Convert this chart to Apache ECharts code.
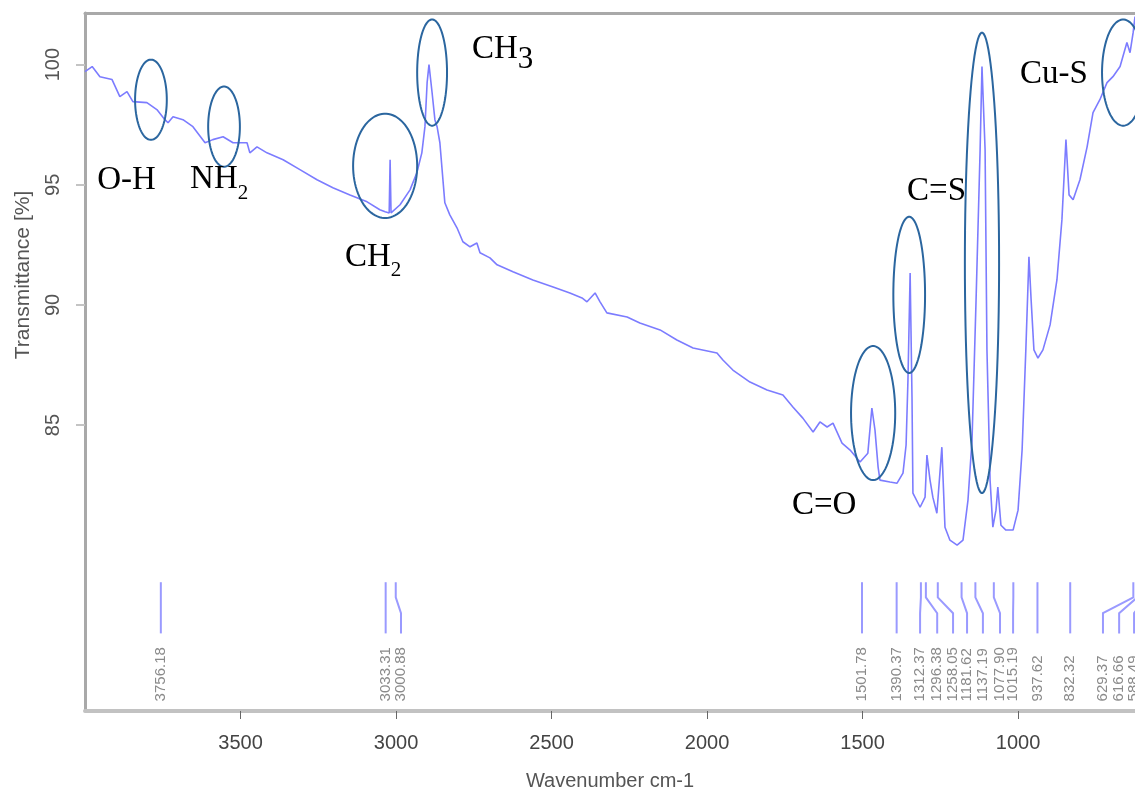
<!DOCTYPE html>
<html>
<head>
<meta charset="utf-8">
<title>FTIR spectrum</title>
<script src="https://cdn.jsdelivr.net/npm/echarts@6/dist/echarts.min.js"></script>
<style>
html, body { margin: 0; padding: 0; background: #fff; }
#chart { width: 1135px; height: 789px; }
</style>
</head>
<body>
<div id="chart"></div>
<script>
// spectrum: wavenumber (cm-1) / transmittance (%)
var wavenumber = [4000, 3977, 3952, 3913, 3888, 3865, 3846, 3801, 3769, 3743, 3733, 3717, 3685, 3653, 3614, 3589,
  3556, 3524, 3479, 3470, 3447, 3415, 3363, 3309, 3254, 3203, 3148, 3093, 3052, 3035, 3022, 3019, 3016, 3010,
  2987, 2955, 2933, 2917, 2907, 2900, 2894, 2884, 2875, 2868, 2859, 2843, 2827, 2804, 2785, 2762, 2740, 2730,
  2698, 2675, 2624, 2560, 2495, 2441, 2402, 2386, 2360, 2344, 2322, 2257, 2216, 2151, 2097, 2045, 1968, 1949,
  1917, 1862, 1807, 1756, 1724, 1692, 1659, 1637, 1614, 1595, 1566, 1540, 1508, 1483, 1470, 1460, 1450, 1444,
  1412, 1389, 1370, 1360, 1354, 1347, 1341, 1338, 1315, 1299, 1293, 1283, 1274, 1261, 1245, 1235, 1219, 1196,
  1177, 1161, 1148, 1135, 1122, 1116, 1106, 1100, 1090, 1081, 1071, 1065, 1055, 1039, 1016, 1000, 987, 975,
  965, 958, 949, 936, 920, 897, 875, 859, 846, 836, 823, 801, 778, 759, 737, 714, 695, 672, 650, 640, 630, 624];
var transmittance = [99.71, 99.92, 99.5, 99.38, 98.67, 98.88, 98.46, 98.42, 98.13, 97.71, 97.58, 97.83, 97.71, 97.42, 96.75, 96.88,
  97.0, 96.75, 96.75, 96.33, 96.58, 96.33, 96.04, 95.63, 95.21, 94.88, 94.58, 94.29, 93.96, 93.88, 93.83, 96.04, 93.83, 93.9,
  94.17, 94.79, 95.5, 96.33, 97.42, 99.25, 100.0, 98.83, 97.71, 97.42, 96.75, 94.25, 93.75, 93.21, 92.63, 92.42, 92.58, 92.17,
  91.96, 91.67, 91.38, 91.04, 90.75, 90.5, 90.29, 90.13, 90.5, 90.13, 89.67, 89.5, 89.25, 88.96, 88.54, 88.21, 88.0, 87.71,
  87.29, 86.79, 86.46, 86.25, 85.75, 85.29, 84.71, 85.13, 84.92, 85.08, 84.25, 83.96, 83.46, 83.83, 85.71, 84.79, 83.25, 82.71,
  82.63, 82.58, 83.0, 84.17, 86.88, 91.33, 86.17, 82.17, 81.58, 82.0, 83.75, 82.71, 82.0, 81.33, 84.08, 80.75, 80.21, 80.0,
  80.21, 81.88, 84.38, 90.21, 96.46, 99.92, 96.46, 88.13, 82.71, 80.75, 81.46, 82.42, 80.83, 80.63, 80.63, 81.46, 83.96, 88.13,
  92.0, 90.21, 88.13, 87.79, 88.13, 89.17, 91.04, 93.54, 96.88, 94.58, 94.38, 95.21, 96.58, 98.0, 98.54, 99.25, 99.5, 99.92, 100.92, 100.5, 101.33, 102.0];

// tick labels
var xTicks = [1000, 1500, 2000, 2500, 3000, 3500];
var yTicks = [85, 90, 95, 100];

// peak picks: real wavenumber, printed text, and where the label ends up after its leader bends
var peakWn = [3756.18, 3033.31, 3000.88, 1501.78, 1390.37, 1312.37, 1296.38, 1258.05, 1181.62, 1137.19,
  1077.90, 1015.19, 937.62, 832.32, 629.37, 616.66, 588.49];
var peakText = ['3756.18', '3033.31', '3000.88', '1501.78', '1390.37', '1312.37', '1296.38', '1258.05', '1181.62', '1137.19',
  '1077.90', '1015.19', '937.62', '832.32', '629.37', '616.66', '588.49'];
var peakLabelWn = [3756.18, 3033.31, 2984, 1501.78, 1390.37, 1315, 1260, 1209, 1164, 1113,
  1058, 1016, 937.62, 832.32, 727, 675, 627];

// band names written on the plot
var bandNames = ['O-H', 'NH', 'CH', 'CH', 'C=S', 'Cu-S', 'C=O'];
var bandSub = ['', '2', '2', '3', '', '', ''];
var bandWn = [3961, 3662, 3164, 2756, 1357, 994, 1727];
var bandT = [95.19, 95.21, 92.0, 100.62, 94.71, 99.58, 81.67];

// rings drawn round the bands (centre, half width in cm-1, half height in %)
var ringWn = [3788, 3553, 3035, 2884, 1466, 1350, 1116, 662];
var ringT = [98.54, 97.42, 95.79, 99.67, 85.5, 90.42, 91.75, 99.67];
var ringRx = [51, 51, 103, 48, 71, 51, 55, 68];
var ringRy = [1.67, 1.67, 2.17, 2.21, 2.79, 3.25, 9.58, 2.21];

var X_MIN = 624, X_MAX = 4000, Y_MIN = 73.1, Y_MAX = 102.15;

var chart = echarts.init(document.getElementById('chart'));

var spectrum = wavenumber.map(function (w, i) { return [w, transmittance[i]]; });

function renderRing(params, api) {
  var i = params.dataIndex;
  var pts = [];
  for (var k = 0; k <= 90; k++) {
    var a = k / 90 * Math.PI * 2;
    pts.push(api.coord([ringWn[i] + ringRx[i] * Math.cos(a), ringT[i] + ringRy[i] * Math.sin(a)]));
  }
  return {
    type: 'polyline',
    shape: { points: pts },
    style: { stroke: '#2b669f', lineWidth: 2, fill: null }
  };
}

function renderPeak(params, api) {
  var i = params.dataIndex;
  var p1 = api.coord([peakWn[i], 78.46]);
  var p2 = api.coord([peakWn[i], 77.83]);
  var p3 = api.coord([peakLabelWn[i], 77.17]);
  var p4 = api.coord([peakLabelWn[i], 76.33]);
  var t = api.coord([peakLabelWn[i], 73.5]);
  return {
    type: 'group',
    children: [{
      type: 'polyline',
      shape: { points: [p1, p2, p3, p4] },
      style: { stroke: '#9a9aff', lineWidth: 2, fill: null }
    }, {
      type: 'text',
      x: t[0], y: t[1],
      rotation: Math.PI / 2,
      style: {
        text: peakText[i], fill: '#8a8a8a', fontSize: 15,
        fontFamily: 'Liberation Sans', align: 'left', verticalAlign: 'middle'
      }
    }]
  };
}

var measureCtx = document.createElement('canvas').getContext('2d');
measureCtx.font = '33px "Liberation Serif"';

function renderBand(params, api) {
  var i = params.dataIndex;
  var p = api.coord([bandWn[i], bandT[i]]);
  var kids = [{
    type: 'text', x: p[0], y: p[1],
    style: {
      text: bandNames[i], fill: '#000', fontSize: 33, fontFamily: 'Liberation Serif',
      align: 'left', verticalAlign: 'middle'
    }
  }];
  if (bandSub[i]) {
    var w = measureCtx.measureText(bandNames[i]).width;
    var big = bandSub[i] === '3';
    kids.push({
      type: 'text', x: p[0] + w, y: p[1] + (big ? 10 : 14),
      style: {
        text: bandSub[i], fill: '#000', fontSize: big ? 31 : 21, fontFamily: 'Liberation Serif',
        align: 'left', verticalAlign: 'middle'
      }
    });
  }
  return { type: 'group', children: kids };
}

var option = {
  animation: false,
  backgroundColor: '#ffffff',
  grid: { left: 85, right: 0, top: 13, bottom: 78, containLabel: false, outerBoundsMode: 'none' },
  xAxis: [{
    type: 'value',
    min: X_MIN, max: X_MAX,
    inverse: true,
    name: 'Wavenumber cm-1',
    nameLocation: 'middle',
    nameGap: 60,
    nameTextStyle: { color: '#555', fontSize: 20, fontFamily: 'Liberation Sans' },
    axisLine: { show: true, onZero: false, lineStyle: { color: '#c2c2c2', width: 4 } },
    axisTick: { show: true, length: 8, customValues: xTicks, lineStyle: { color: '#666', width: 1 } },
    axisLabel: {
      customValues: xTicks, margin: 22, color: '#444', fontSize: 20, fontFamily: 'Liberation Sans',
      formatter: function (v) { return String(v); }
    },
    splitLine: { show: false }
  }, {
    type: 'value',
    position: 'top',
    min: X_MIN, max: X_MAX,
    inverse: true,
    axisLine: { show: true, onZero: false, lineStyle: { color: '#a9a9a9', width: 3 } },
    axisTick: { show: false },
    axisLabel: { show: false },
    splitLine: { show: false }
  }],
  yAxis: {
    type: 'value',
    min: Y_MIN, max: Y_MAX,
    axisLine: { show: true, onZero: false, lineStyle: { color: '#a9a9a9', width: 3 } },
    axisTick: { show: true, length: 9, customValues: yTicks, lineStyle: { color: '#c4c4c4', width: 2 } },
    axisLabel: {
      customValues: yTicks, rotate: 90, margin: 22, color: '#555', fontSize: 20, fontFamily: 'Liberation Sans',
      formatter: function (v) { return String(v); }
    },
    splitLine: { show: false }
  },
  graphic: [{
    type: 'text',
    x: 23, y: 275,
    rotation: Math.PI / 2,
    style: {
      text: 'Transmittance [%]', fill: '#555', fontSize: 21, fontFamily: 'Liberation Sans',
      align: 'center', verticalAlign: 'middle'
    }
  }],
  series: [{
    type: 'line',
    data: spectrum,
    showSymbol: false,
    symbol: 'none',
    lineStyle: { color: '#7c7cff', width: 1.6 },
    z: 3
  }, {
    type: 'custom',
    renderItem: renderRing,
    data: ringWn.map(function (w, i) { return [w, ringT[i]]; }),
    z: 4
  }, {
    type: 'custom',
    renderItem: renderPeak,
    data: peakWn.map(function (w) { return [w, 78.46]; }),
    z: 2
  }, {
    type: 'custom',
    renderItem: renderBand,
    data: bandWn.map(function (w, i) { return [w, bandT[i]]; }),
    z: 5
  }]
};

chart.setOption(option);
</script>
</body>
</html>
